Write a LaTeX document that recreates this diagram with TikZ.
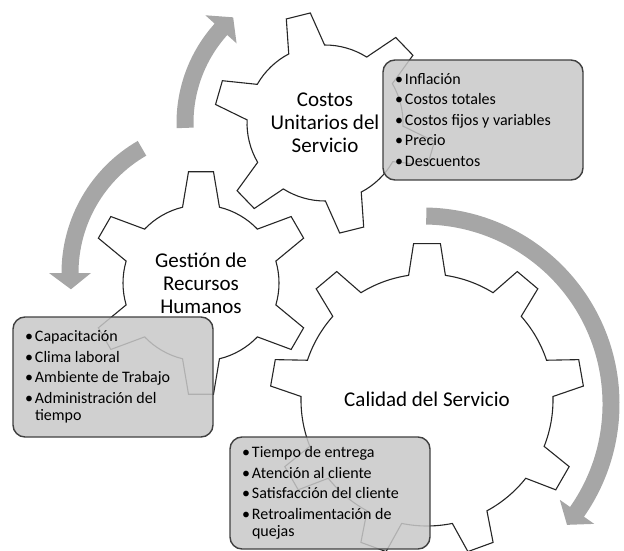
\documentclass[tikz,border=0pt]{standalone}
\usepackage{fontspec}
\setmainfont{Carlito}
\usetikzlibrary{calc}
\definecolor{GearLine}{RGB}{38,38,38}
\definecolor{CycleGray}{RGB}{166,166,166}
\definecolor{ListFill}{RGB}{200,200,200}
\definecolor{ListLine}{RGB}{64,64,64}

\tikzset{
  gearline/.style={draw=GearLine, line width=1.1pt, fill=white, line join=miter},
  geartext/.style={align=center, inner sep=0pt, font=\fontsize{21}{23}\selectfont},
  listbox/.style={draw=ListLine, line width=1.4pt, fill=ListFill, fill opacity=0.85, text opacity=1,
    rounded corners=12pt, text width=176pt, inner xsep=12pt, inner ysep=0pt, align=flush left,
    font=\fontsize{16}{17.5}\selectfont},
  cyclearrow/.style={fill=CycleGray}
}

% bullet line of a list box
\newcommand{\itm}[1]{\makebox[10pt][l]{•}#1}

% gear: centre, teeth, rotation, outer r, inner r, tip half angle, base half angle
\newcommand{\gearoutline}[7]{%
  \pgfmathsetmacro{\gearstep}{360/#2}
  \draw[gearline] ($(#1)+({#3-#7}:#5)$)
    \foreach \k in {1,...,#2}{
      -- ($(#1)+({#3+(\k-1)*\gearstep-#6}:#4)$)
      -- ($(#1)+({#3+(\k-1)*\gearstep+#6}:#4)$)
      -- ($(#1)+({#3+(\k-1)*\gearstep+#7}:#5)$)
      arc[start angle={#3+(\k-1)*\gearstep+#7}, end angle={#3+\k*\gearstep-#7}, radius=#5pt]
    } -- cycle;
}

% circular arrow: centre, mid radius, start angle, head base angle, tip angle
\newcommand{\cyclearrowpath}[5]{%
  \fill[cyclearrow] ($(#1)+(#3:{#2+8.5})$)
    arc[start angle=#3, end angle=#4, radius={#2pt+8.5pt}]
    -- ($(#1)+(#4:{#2+21})$) -- ($(#1)+(#5:#2)$) -- ($(#1)+(#4:{#2-21})$)
    -- ($(#1)+(#4:{#2-8.5})$)
    arc[start angle=#4, end angle=#3, radius={#2pt-8.5pt}] -- cycle;
}

\begin{document}
\begin{tikzpicture}[x=1pt, y=1pt]
  \useasboundingbox (0,0) rectangle (624,550);

  \coordinate (costosC) at (325,427);
  \coordinate (gestionC) at (201,267);
  \coordinate (calidadC) at (427,150);
  \coordinate (gestionArc) at (214,277);
  \coordinate (calidadArc) at (423,146);

  % gears
  \gearoutline{costosC}{6}{104}{111}{78}{6.4}{13.7}
  \gearoutline{gestionC}{6}{90}{112}{78}{6.4}{13.7}
  \gearoutline{calidadC}{9}{90}{157}{126}{4.9}{8.4}

  % cycle arrows
  \cyclearrowpath{costosC}{140}{182}{138}{131}
  \cyclearrowpath{gestionArc}{144}{120}{180}{186.5}
  \cyclearrowpath{calidadArc}{188}{89}{-35}{-40}

  \node[geartext] (costos) at (costosC) {Costos\\Unitarios del\\Servicio};
  \node[geartext] (gestion) at (gestionC) {Gestión de\\Recursos\\Humanos};
  \node[geartext] (calidad) at ($(calidadC)+(0,1)$) {Calidad del Servicio};

  % lists
  \node[listbox, minimum height=120pt] (costosList) at (483,430) {%
    \itm{Inflación}\\[3pt]
    \itm{Costos totales}\\[3pt]
    \itm{Costos fijos y variables}\\[3pt]
    \itm{Precio}\\[3pt]
    \itm{Descuentos}};
  \node[listbox, minimum height=120pt] (gestionList) at (113,173) {%
    \itm{Capacitación}\\[3pt]
    \itm{Clima laboral}\\[3pt]
    \itm{Ambiente de Trabajo}\\[3pt]
    \itm{Administración del}\\
    \hspace*{10pt}tiempo};
  \node[listbox, minimum height=112pt] (calidadList) at (330,57) {%
    \itm{Tiempo de entrega}\\[3pt]
    \itm{Atención al cliente}\\[3pt]
    \itm{Satisfacción del cliente}\\[3pt]
    \itm{Retroalimentación de}\\
    \hspace*{10pt}quejas};
\end{tikzpicture}
\end{document}
